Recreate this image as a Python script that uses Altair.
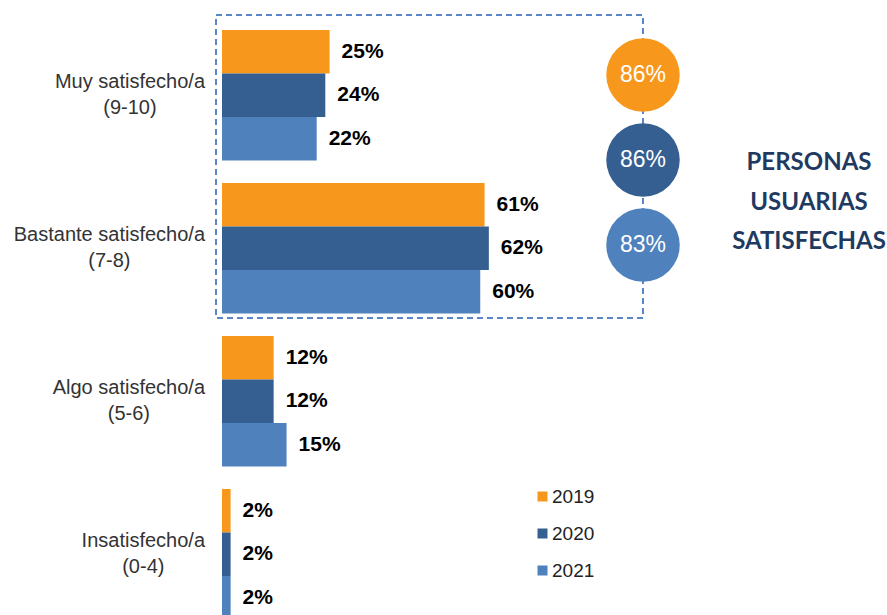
import altair as alt
import pandas as pd

# ---------------- data ----------------
categories = ["Muy satisfecho/a", "Bastante satisfecho/a", "Algo satisfecho/a", "Insatisfecho/a"]
score_ranges = ["(9-10)", "(7-8)", "(5-6)", "(0-4)"]
years = ["2019", "2020", "2021"]
values_2019 = [25, 61, 12, 2]
values_2020 = [24, 62, 12, 2]
values_2021 = [22, 60, 15, 2]
satisfied_total = [86, 86, 83]
colors = ["#F7981D", "#365F91", "#4F81BD"]
side_title = ["PERSONAS", "USUARIAS", "SATISFECHAS"]

rows = []
for yr, vals in zip(years, [values_2019, values_2020, values_2021]):
    for cat, v in zip(categories, vals):
        rows.append({"category": cat, "year": yr, "value": v, "label": f"{v}%"})
bars_df = pd.DataFrame(rows)

# approximate Arial / Liberation Sans advance widths (1/1000 em) to centre the two label lines
ARIAL = {" ": 278, "M": 833, "u": 556, "y": 500, "s": 500, "a": 556, "t": 278, "i": 222,
         "f": 278, "e": 556, "c": 500, "h": 556, "o": 556, "/": 278, "B": 667, "n": 556,
         "A": 667, "l": 222, "g": 556, "I": 278, "(": 333, ")": 333, "-": 333}


def text_width(s, size):
    return sum(ARIAL.get(ch, 556) for ch in s) * size / 1000.0


LABEL_SIZE = 20
LABEL_RIGHT = -17
lab_df = pd.DataFrame({"category": categories, "range": score_ranges})
lab_df["cx"] = [LABEL_RIGHT - text_width(c, LABEL_SIZE) / 2 for c in categories]

circ_df = pd.DataFrame({"year": years, "total": satisfied_total,
                        "label": [f"{v}%" for v in satisfied_total]})

# ---------------- scales ----------------
X_SCALE = alt.Scale(domain=[0, 154.5], nice=False, zero=True)
Y_SCALE = alt.Scale(domain=categories, range=[0, 649.5], paddingInner=0.147, paddingOuter=0.196)
COLOR_SCALE = alt.Scale(domain=years, range=colors)

x_enc = alt.X("value:Q", scale=X_SCALE, axis=None)
y_enc = alt.Y("category:N", scale=Y_SCALE, axis=None, sort=categories)
yoff_enc = alt.YOffset("year:N", sort=years, scale=alt.Scale(paddingInner=0, paddingOuter=0))

base = alt.Chart(bars_df)

bars = base.mark_bar(clip=True).encode(
    x=x_enc,
    y=y_enc,
    yOffset=yoff_enc,
    color=alt.Color(
        "year:N", scale=COLOR_SCALE, sort=years,
        legend=alt.Legend(orient="none", legendX=311, legendY=487, title=None,
                          symbolType="square", symbolSize=100, symbolStrokeWidth=0,
                          labelFontSize=19, labelFont="Liberation Sans", labelColor="#222222",
                          rowPadding=17, labelOffset=0, padding=0),
    ),
)

values = base.mark_text(align="left", baseline="middle", dx=12, font="Liberation Sans",
                        fontSize=21, fontWeight="bold", color="#000000").encode(
    x=x_enc, y=y_enc, yOffset=yoff_enc, text="label:N"
)

labels = alt.Chart(lab_df).transform_calculate(
    lines="[datum.category, datum.range]"
).mark_text(align="center", baseline="middle", lineHeight=26, dy=-13, fontSize=LABEL_SIZE,
            font="Liberation Sans", color="#333333").encode(
    x=alt.X("cx:Q", scale=None),
    y=y_enc,
    text="lines:N",
)

box = alt.Chart(pd.DataFrame({"a": [0]})).mark_rect(
    fill="transparent", stroke="#5B85C9", strokeWidth=2, strokeDash=[6, 4]
).encode(x=alt.value(-6), x2=alt.value(421), y=alt.value(15), y2=alt.value(318))

CY = alt.Y("year:N", sort=years, scale=alt.Scale(range=[75, 245], padding=0), axis=None)

circles = alt.Chart(circ_df).mark_circle(size=5400, opacity=1).encode(
    x=alt.value(421),
    y=CY,
    fill=alt.Fill("year:N", scale=COLOR_SCALE, sort=years, legend=None),
)
circ_text = alt.Chart(circ_df).mark_text(
    color="white", fontSize=23, font="Liberation Sans", baseline="middle", align="center"
).encode(x=alt.value(421), y=CY, text="label:N")

title_text = alt.Chart(pd.DataFrame({"a": [0]})).mark_text(
    align="center", baseline="middle", lineHeight=39.5, font="Lato", fontSize=24,
    fontWeight="bold", color="#1F3A60"
).encode(x=alt.value(587), y=alt.value(163), text=alt.value(side_title))

main = alt.layer(box, bars, values, labels)
circ = alt.layer(circles, circ_text)

chart = alt.layer(main, circ, title_text).resolve_scale(y="independent").properties(
    width=665, height=615,
    padding={"left": 222, "top": 0, "right": 0, "bottom": 0},
    autosize=alt.AutoSizeParams(type="none"),
).configure_view(stroke=None)

chart.save("out.html", embed_options={"renderer": "svg", "actions": False})
